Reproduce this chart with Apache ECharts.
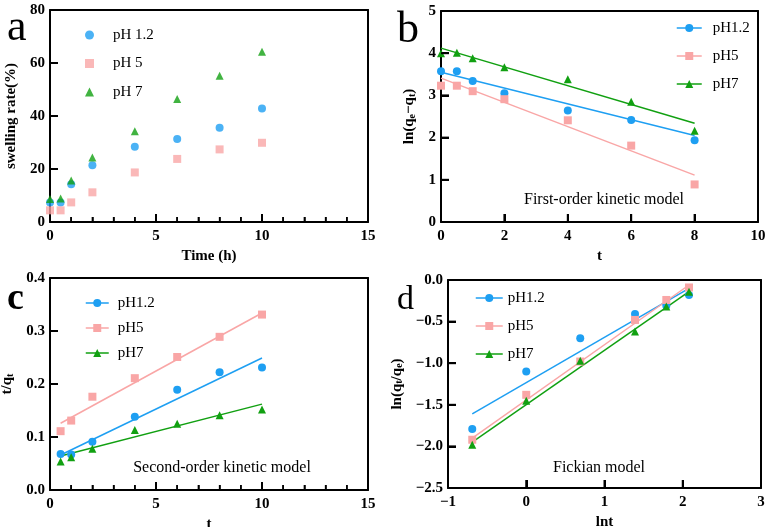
<!DOCTYPE html>
<html>
<head>
<meta charset="utf-8">
<script src="https://cdn.jsdelivr.net/npm/echarts@6/dist/echarts.min.js"></script>
<style>
  html, body { margin: 0; padding: 0; background: #fff; }
  #wrap { position: relative; width: 769px; height: 527px; }
  .panel { position: absolute; }
  #chartA { left: 0; top: 0; width: 385px; height: 263px; }
  #chartB { left: 385px; top: 0; width: 384px; height: 263px; }
  #chartC { left: 0; top: 263px; width: 385px; height: 264px; }
  #chartD { left: 385px; top: 263px; width: 384px; height: 264px; }
</style>
</head>
<body>
<div id="wrap">
  <div class="panel" id="chartA"></div>
  <div class="panel" id="chartB"></div>
  <div class="panel" id="chartC"></div>
  <div class="panel" id="chartD"></div>
</div>
<script>
// (a) swelling rate vs time
const timeA = [0, 0.5, 1, 2, 4, 6, 8, 10];
const swellPH12 = [7.4, 7.4, 14.2, 21.4, 28.4, 31.3, 35.6, 42.8];
const swellPH5 = [4.4, 4.4, 7.4, 11.2, 18.7, 23.8, 27.4, 29.9];
const swellPH7 = [8.7, 8.9, 15.7, 24.3, 34.2, 46.4, 55.2, 64.2];

// (b) first-order kinetic model
const timeB = [0, 0.5, 1, 2, 4, 6, 8];
const firstPH12 = [3.57, 3.57, 3.34, 3.05, 2.64, 2.42, 1.94];
const firstPH5 = [3.23, 3.23, 3.10, 2.91, 2.41, 1.81, 0.89];
const firstPH7 = [4.00, 4.01, 3.88, 3.67, 3.38, 2.85, 2.16];
const fitTimeB = [0, 8];
const fitFirstPH12 = [3.55, 2.05];
const fitFirstPH5 = [3.41, 1.11];
const fitFirstPH7 = [4.12, 2.34];

// (c) second-order kinetic model
const timeC = [0.5, 1, 2, 4, 6, 8, 10];
const secondPH12 = [0.068, 0.067, 0.091, 0.138, 0.189, 0.222, 0.231];
const secondPH5 = [0.111, 0.131, 0.176, 0.211, 0.251, 0.289, 0.331];
const secondPH7 = [0.054, 0.062, 0.078, 0.113, 0.125, 0.141, 0.152];
const fitTimeC = [0.5, 10];
const fitSecondPH12 = [0.066, 0.249];
const fitSecondPH5 = [0.126, 0.334];
const fitSecondPH7 = [0.064, 0.162];

// (d) Fickian model
const lnTime = [-0.69, 0, 0.69, 1.39, 1.79, 2.08];
const fickPH12 = [-1.79, -1.10, -0.70, -0.41, -0.31, -0.18];
const fickPH5 = [-1.92, -1.38, -0.98, -0.48, -0.24, -0.09];
const fickPH7 = [-1.98, -1.45, -0.97, -0.62, -0.32, -0.14];
const fitLnTime = [-0.69, 2.08];
const fitFickPH12 = [-1.61, -0.10];
const fitFickPH5 = [-1.90, -0.06];
const fitFickPH7 = [-1.95, -0.14];

const BLUE = "#1e9ff2", PINK = "#f9a6a6", GREEN = "#11a011";
const SERIF = "'Liberation Serif', 'Times New Roman', serif";
const legendNames = ["pH1.2", "pH5", "pH7"];

const pairs = (xs, ys) => xs.map((x, i) => [x, ys[i]]);
const minus = v => String(v).replace("-", "\u2212");

function xAxisOf(min, max, interval, name, nameGap, minor) {
  return {
    type: "value", min, max, interval,
    name, nameLocation: "middle", nameGap,
    nameTextStyle: { fontFamily: SERIF, fontWeight: "bold", fontSize: 15, color: "#000" },
    axisLine: { show: true, onZero: false, lineStyle: { color: "#000", width: 2 } },
    axisTick: { show: true, inside: true, length: 8, lineStyle: { color: "#000", width: 2 } },
    minorTick: { show: !!minor, splitNumber: 5, length: 5, lineStyle: { color: "#000", width: 1.5 } },
    axisLabel: { fontFamily: SERIF, fontWeight: "bold", fontSize: 15, color: "#000", margin: 7, formatter: minus },
    splitLine: { show: false }
  };
}

function yAxisOf(min, max, interval, name, nameGap, decimals) {
  return {
    type: "value", min, max, interval,
    name, nameLocation: "middle", nameGap, nameRotate: 90,
    nameTextStyle: {
      fontFamily: SERIF, fontWeight: "bold", fontSize: 15, color: "#000",
      rich: { sub: { fontFamily: SERIF, fontWeight: "bold", fontSize: 10, color: "#000", padding: [6, 0, 0, 0] } }
    },
    axisLine: { show: true, onZero: false, lineStyle: { color: "#000", width: 2 } },
    axisTick: { show: true, inside: true, length: 8, lineStyle: { color: "#000", width: 2 } },
    axisLabel: {
      fontFamily: SERIF, fontWeight: "bold", fontSize: 15, color: "#000", margin: 5,
      formatter: v => minus(decimals ? v.toFixed(decimals) : v)
    },
    splitLine: { show: false }
  };
}

// plain line closing the box on the top / right
function frame(position) {
  return {
    type: "value", position, min: 0, max: 1,
    axisLine: { show: true, onZero: false, lineStyle: { color: "#000", width: 2 } },
    axisTick: { show: false }, axisLabel: { show: false }, splitLine: { show: false }
  };
}

function dots(name, color, symbol, xs, ys) {
  return {
    name, type: "line", data: pairs(xs, ys), symbol, symbolSize: 8, showSymbol: true,
    lineStyle: { opacity: 0 }, itemStyle: { color }, z: 3
  };
}

function fit(color, xs, ys) {
  return {
    name: "fit " + color, type: "line", data: pairs(xs, ys), showSymbol: false, silent: true,
    lineStyle: { color, width: 1.5 }, itemStyle: { color }, z: 2
  };
}

function legendOf(left, top, itemWidth, itemHeight, gap, pad, names, line) {
  return {
    orient: "vertical", left, top, itemWidth, itemHeight, itemGap: gap,
    data: names, selectedMode: false,
    textStyle: { fontFamily: SERIF, fontSize: 15, color: "#000", lineHeight: 18, padding: [0, 0, 0, pad] },
    lineStyle: line ? { opacity: 1, width: 1.5 } : undefined
  };
}

function letter(text, x, y, size, weight) {
  return {
    type: "text", x, y,
    style: { text, font: (weight || "normal") + " " + size + "px " + SERIF, fill: "#000", textVerticalAlign: "middle", textAlign: "left" }
  };
}

function note(text, cx, cy) {
  return {
    type: "text", x: cx, y: cy,
    style: { text, font: "16px " + SERIF, fill: "#000", textAlign: "center", textVerticalAlign: "middle" }
  };
}

// inward tick marks on the bottom and left axes, placed through the chart's own scales
function steps(a, b, s) {
  const out = [];
  for (let i = 1; a + i * s < b - 1e-9; i++) out.push(+(a + i * s).toFixed(6));
  return out;
}
function tickMarks(chart, t) {
  const at = (x, y) => chart.convertToPixel({ xAxisIndex: 0, yAxisIndex: 0 }, [x, y]);
  const seg = (p, dx, dy, w) => ({
    type: "line", silent: true, z: 10,
    shape: { x1: p[0], y1: p[1], x2: p[0] + dx, y2: p[1] + dy },
    style: { stroke: "#000", lineWidth: w }
  });
  const major = steps(t.x[0], t.x[1], t.x[2]);
  const els = major.map(v => seg(at(v, t.y[0]), 0, -8, 2));
  if (t.minor) {
    steps(t.x[0], t.x[1], t.minor)
      .filter(v => !major.some(m => Math.abs(m - v) < 1e-6))
      .forEach(v => els.push(seg(at(v, t.y[0]), 0, -5, 1.5)));
  }
  steps(t.y[0], t.y[1], t.y[2]).forEach(v => els.push(seg(at(t.x[0], v), 8, 0, 2)));
  return els;
}

function draw(id, option, ticks, graphic) {
  const chart = echarts.init(document.getElementById(id));
  chart.setOption(Object.assign({ animation: false }, option));
  chart.setOption({ graphic: graphic.concat(tickMarks(chart, ticks)) });
}

const gridBase = { outerBoundsMode: "none", containLabel: false };

// a
draw("chartA", {
  grid: Object.assign({ left: 50, top: 10, right: 17, bottom: 41 }, gridBase),
  xAxis: [xAxisOf(0, 15, 5, "Time (h)", 13, true), frame("top")],
  yAxis: [yAxisOf(0, 80, 20, "swelling rate(%)", 21, 0), frame("right")],
  legend: legendOf(80, 21, 9, 9, 10.5, 14, ["pH 1.2", "pH 5", "pH 7"], false),
  series: [
    { name: "pH 1.2", type: "scatter", data: pairs(timeA, swellPH12), symbol: "circle", symbolSize: 8, itemStyle: { color: BLUE } },
    { name: "pH 5", type: "scatter", data: pairs(timeA, swellPH5), symbol: "rect", symbolSize: 8, itemStyle: { color: PINK } },
    { name: "pH 7", type: "scatter", data: pairs(timeA, swellPH7), symbol: "triangle", symbolSize: 8, itemStyle: { color: GREEN } }
  ]
}, { x: [0, 15, 5], y: [0, 80, 20], minor: 1 }, [letter("a", 7, 28, 44)]);

// b
draw("chartB", {
  grid: Object.assign({ left: 56, top: 11, right: 11, bottom: 41 }, gridBase),
  xAxis: [xAxisOf(0, 10, 2, "t", 22, false), frame("top")],
  yAxis: [yAxisOf(0, 5, 1, "ln(q{sub|e}\u2212q{sub|t})", 16, 0), frame("right")],
  legend: legendOf(286, 14, 25, 10, 10, 6, legendNames, true),
  series: [
    dots("pH1.2", BLUE, "circle", timeB, firstPH12),
    dots("pH5", PINK, "rect", timeB, firstPH5),
    dots("pH7", GREEN, "triangle", timeB, firstPH7),
    fit(BLUE, fitTimeB, fitFirstPH12),
    fit(PINK, fitTimeB, fitFirstPH5),
    fit(GREEN, fitTimeB, fitFirstPH7)
  ]
}, { x: [0, 10, 2], y: [0, 5, 1] }, [letter("b", 12, 30, 44), note("First-order kinetic model", 219, 200)]);

// c
draw("chartC", {
  grid: Object.assign({ left: 50, top: 15, right: 17, bottom: 37 }, gridBase),
  xAxis: [xAxisOf(0, 15, 5, "t", 12, true), frame("top")],
  yAxis: [yAxisOf(0, 0.4, 0.1, "t/q{sub|t}", 31, 1), frame("right")],
  legend: legendOf(80, 26, 23, 10, 7, 4, legendNames, true),
  series: [
    dots("pH1.2", BLUE, "circle", timeC, secondPH12),
    dots("pH5", PINK, "rect", timeC, secondPH5),
    dots("pH7", GREEN, "triangle", timeC, secondPH7),
    fit(BLUE, fitTimeC, fitSecondPH12),
    fit(PINK, fitTimeC, fitSecondPH5),
    fit(GREEN, fitTimeC, fitSecondPH7)
  ]
}, { x: [0, 15, 5], y: [0, 0.4, 0.1], minor: 1 }, [letter("c", 7, 36, 38, "bold"), note("Second-order kinetic model", 222, 205)]);

// d
draw("chartD", {
  grid: Object.assign({ left: 63, top: 17, right: 8, bottom: 39 }, gridBase),
  xAxis: [xAxisOf(-1, 3, 1, "lnt", 20, false), frame("top")],
  yAxis: [yAxisOf(-2.5, 0, 0.5, "ln(q{sub|t}/q{sub|e})", 35, 1), frame("right")],
  legend: legendOf(85, 21, 27, 10, 10, 0, legendNames, true),
  series: [
    dots("pH1.2", BLUE, "circle", lnTime, fickPH12),
    dots("pH5", PINK, "rect", lnTime, fickPH5),
    dots("pH7", GREEN, "triangle", lnTime, fickPH7),
    fit(BLUE, fitLnTime, fitFickPH12),
    fit(PINK, fitLnTime, fitFickPH5),
    fit(GREEN, fitLnTime, fitFickPH7)
  ]
}, { x: [-1, 3, 1], y: [-2.5, 0, 0.5] }, [letter("d", 12, 37, 34), note("Fickian model", 214, 205)]);
</script>
</body>
</html>
